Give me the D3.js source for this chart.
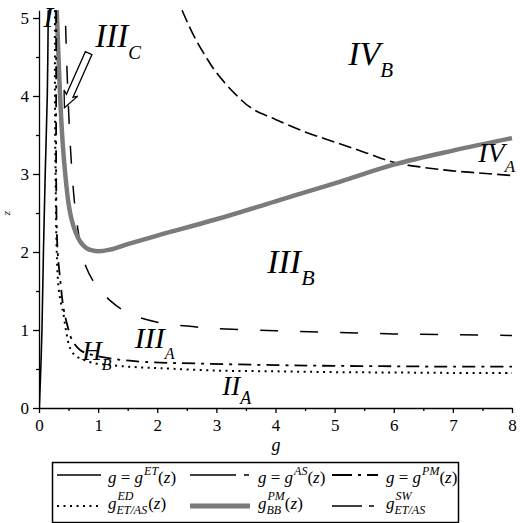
<!DOCTYPE html>
<html><head><meta charset="utf-8">
<script src="https://cdn.jsdelivr.net/npm/d3@7"></script>
<style>
body{margin:0;background:#fff;}
svg{display:block;}
</style>
</head><body>
<svg id="chart" width="520" height="523" font-family="Liberation Serif"></svg>
<script>
// ---------- data (g, z) ----------
const xTicks = [0,1,2,3,4,5,6,7,8];
const yTicks = [0,1,2,3,4,5];
const xMinor = [0.5,1.5,2.5,3.5,4.5,5.5,6.5,7.5];
const yMinor = [0.5,1.5,2.5,3.5,4.5];

// g = g^ET(z)
const etG = [0.005,0.03,0.05,0.075,0.105,0.14,0.157];
const etZ = [0,0.5,1,2,3,4,5.1];
// g = g^AS(z)
const asG = [2.42,2.6,2.8,3.0,3.3,3.6,4.0,4.5,5,5.5,6,6.5,7,7.5,8];
const asZ = [5.1,4.8,4.53,4.3,4.04,3.84,3.7,3.54,3.41,3.28,3.15,3.085,3.04,3.01,2.98];
// g = g^PM(z)
const pmG = [0.29,0.29,0.29,0.3,0.32,0.36,0.41,0.47,0.56,0.7,0.9,1.25,1.8,2.7,4,5,6,7,8];
const pmZ = [5.1,4.0,3.0,2.3,1.95,1.64,1.3,1.09,0.87,0.74,0.68,0.63,0.59,0.57,0.55,0.54,0.535,0.53,0.53];
// g^ED_ET/AS(z)
const edG = [0.27,0.27,0.28,0.3,0.33,0.37,0.41,0.46,0.52,0.6,0.75,0.9,1.2,1.6,2.05,3,4,5,6,7,8];
const edZ = [5.1,4.0,3.0,2.0,1.55,1.35,1.22,0.98,0.78,0.68,0.62,0.58,0.55,0.525,0.51,0.48,0.47,0.46,0.455,0.45,0.45];
// g^PM_BB(z)
const bbG = [0.3,0.33,0.36,0.4,0.45,0.5,0.55,0.62,0.7,0.8,0.9,1.0,1.2,1.5,2,3,4,5,6,7,8];
const bbZ = [5.1,4.5,3.95,3.4,2.95,2.62,2.42,2.25,2.13,2.05,2.02,2.01,2.03,2.1,2.21,2.42,2.65,2.88,3.12,3.3,3.46];
// g^SW_ET/AS
const swG = [0.45,0.48,0.52,0.57,0.62,0.7,0.8,0.9,1.0,1.2,1.5,2,2.5,3,4,5,6,7,8];
const swZ = [4.9,4.2,3.5,2.9,2.5,2.1,1.8,1.65,1.55,1.38,1.22,1.1,1.05,1.02,0.99,0.97,0.95,0.94,0.93];

// region labels
const regionMain = ["I","III","IV","IV","III","III","H","II"];
const regionSub  = ["","C","B","A","B","A","B","A"];
const regionG    = [0.07,0.95,5.23,7.43,3.86,1.62,0.73,3.1];
const regionZ    = [4.88,4.63,4.4,3.15,1.73,0.77,0.615,0.17];
const regionSize = [30,33,34,28,34,30,27,27];
const regionSubSize = [18,19,21,17,22,16,16,18];

// arrow (tail -> tip) in data coords
const arrowTail = [0.84,4.55];
const arrowTip  = [0.43,3.85];

// legend labels
const legendParts = [
  [{t:"g"},{t:" = ",r:1},{t:"g"},{sup:"ET"},{t:"(",r:1},{t:"z"},{t:")",r:1}],
  [{t:"g"},{t:" = ",r:1},{t:"g"},{sup:"AS"},{t:"(",r:1},{t:"z"},{t:")",r:1}],
  [{t:"g"},{t:" = ",r:1},{t:"g"},{sup:"PM"},{t:"(",r:1},{t:"z"},{t:")",r:1}],
  [{t:"g"},{sup:"ED",sub:"ET/AS"},{t:"(",r:1},{t:"z"},{t:")",r:1}],
  [{t:"g"},{sup:"PM",sub:"BB"},{t:"(",r:1},{t:"z"},{t:")",r:1}],
  [{t:"g"},{sup:"SW",sub:"ET/AS"}]
];

// ---------- drawing ----------
const FONT = "Liberation Serif";
const svg = d3.select("#chart");
const x = d3.scaleLinear().domain([0,8]).range([39,512]);
const y = d3.scaleLinear().domain([0,5.1]).range([408,10.2]);

svg.append("defs").append("clipPath").attr("id","clip")
  .append("rect").attr("x",x(0)).attr("y",y(5.1)-1).attr("width",x(8)-x(0)+2).attr("height",y(0)-y(5.1)+1);

// axes
const axes = svg.append("g");
axes.append("g").attr("transform",`translate(0,${y(0)})`)
  .call(d3.axisBottom(x).tickValues(xTicks).tickSize(5).tickSizeOuter(0).tickPadding(6).tickFormat(d3.format("d")));
axes.append("g").attr("transform",`translate(0,${y(0)})`)
  .call(d3.axisBottom(x).tickValues(xMinor).tickSize(3).tickSizeOuter(0).tickFormat(""))
  .select(".domain").remove();
axes.append("g").attr("transform",`translate(${x(0)},0)`)
  .call(d3.axisLeft(y).tickValues(yTicks).tickSize(6).tickSizeOuter(0).tickPadding(4).tickFormat(d3.format("d")));
axes.append("g").attr("transform",`translate(${x(0)},0)`)
  .call(d3.axisLeft(y).tickValues(yMinor).tickSize(3).tickSizeOuter(0).tickFormat(""))
  .select(".domain").remove();
axes.selectAll("g").attr("font-family",FONT);
axes.selectAll(".domain, .tick line").attr("stroke","#000").attr("stroke-width",1.3);
axes.selectAll(".tick text").attr("font-size",17).attr("font-family",FONT).attr("fill","#000");

// axis titles
svg.append("text").attr("x",276).attr("y",451).attr("font-size",18).attr("font-style","italic")
  .attr("text-anchor","middle").attr("font-family",FONT).text("g");
svg.append("text").attr("transform","translate(10,213) rotate(-90)").attr("font-size",11)
  .attr("font-style","italic").attr("text-anchor","middle").attr("font-family",FONT).text("z");

// curves
const line = d3.line().x(d=>x(d[0])).y(d=>y(d[1])).curve(d3.curveCatmullRom.alpha(0.5));
const plot = svg.append("g").attr("clip-path","url(#clip)");
const styleET = {stroke:"#000",w:1.6,dash:null};
const styleAS = {stroke:"#000",w:1.6,dash:"13,5"};
const styleSW = {stroke:"#000",w:1.5,dash:"18,22"};
const styleBB = {stroke:"#7b7b7b",w:4.5,dash:null};
const stylePM = {stroke:"#000",w:1.8,dash:"13,6,3,6"};
const styleED = {stroke:"#000",w:2,dash:"2,4.5"};
function draw(gs, zs, s){
  plot.append("path").datum(d3.zip(gs,zs)).attr("d",line).attr("fill","none")
    .attr("stroke",s.stroke).attr("stroke-width",s.w).attr("stroke-dasharray",s.dash);
}
draw(etG,etZ,styleET);
draw(asG,asZ,styleAS);
draw(swG,swZ,styleSW);
draw(bbG,bbZ,styleBB);
draw(pmG,pmZ,stylePM);
draw(edG,edZ,styleED);

// region labels
regionMain.forEach((m,i)=>{
  const t = svg.append("text").attr("x",x(regionG[i])).attr("y",y(regionZ[i]))
    .attr("font-style","italic").attr("font-size",regionSize[i]).attr("font-family",FONT);
  t.append("tspan").text(m);
  if(regionSub[i]) t.append("tspan").attr("dy",regionSize[i]*0.36).attr("font-size",regionSubSize[i]).text(regionSub[i]);
});

// arrow
{
  const tx=x(arrowTip[0]), ty=y(arrowTip[1]), sx=x(arrowTail[0]), sy=y(arrowTail[1]);
  const L = Math.hypot(tx-sx,ty-sy);
  const ang = Math.atan2(ty-sy,tx-sx)*180/Math.PI;
  const pts = [[0,0],[-16,-7.5],[-13,-3.6],[-L,-3.6],[-L,3.6],[-13,3.6],[-16,7.5]];
  svg.append("polygon").attr("points",pts.map(p=>p.join(",")).join(" "))
    .attr("transform",`translate(${tx},${ty}) rotate(${ang})`)
    .attr("fill","#fff").attr("stroke","#000").attr("stroke-width",1.3).attr("stroke-linejoin","miter");
}

// legend
const lg = svg.append("g");
lg.append("rect").attr("x",52.5).attr("y",462.5).attr("width",406).attr("height",60)
  .attr("fill","none").attr("stroke","#000").attr("stroke-width",1.5);
const legendStyles = [styleET,styleAS,stylePM,styleED,styleBB,styleSW];
const legendDash = [null,"46,8,5,20","20,6,3,6","2,4.5",null,"30,7,5,20"];
const colSample = [[57,101],[190,250],[332,378]];
const colText = [108,258,386];
const rowLine = [475,506];
const rowBase = [483,509];
legendStyles.forEach((s,i)=>{
  const c=i%3, r=Math.floor(i/3);
  lg.append("line").attr("x1",colSample[c][0]).attr("x2",colSample[c][1])
    .attr("y1",rowLine[r]).attr("y2",rowLine[r])
    .attr("stroke",s.stroke).attr("stroke-width",s===styleBB?5:s.w)
    .attr("stroke-dasharray", legendDash[i]);
  let cx = colText[c];
  const base = rowBase[r];
  legendParts[i].forEach(p=>{
    if(p.t!==undefined){
      const t = lg.append("text").attr("x",cx).attr("y",base).attr("font-size",17)
        .attr("font-style",p.r?"normal":"italic").style("white-space","pre").attr("font-family",FONT).text(p.t);
      cx += t.node().getComputedTextLength();
    } else {
      let w=0;
      if(p.sup){
        const t = lg.append("text").attr("x",cx+1).attr("y",base-(p.sub?9:8)).attr("font-size",12)
          .attr("font-style","italic").attr("font-family",FONT).text(p.sup);
        w=Math.max(w,t.node().getComputedTextLength());
      }
      if(p.sub){
        const t = lg.append("text").attr("x",cx).attr("y",base+5).attr("font-size",12)
          .attr("font-style","italic").attr("font-family",FONT).text(p.sub);
        w=Math.max(w,t.node().getComputedTextLength());
      }
      cx += w+1;
    }
  });
});
</script>
</body></html>
